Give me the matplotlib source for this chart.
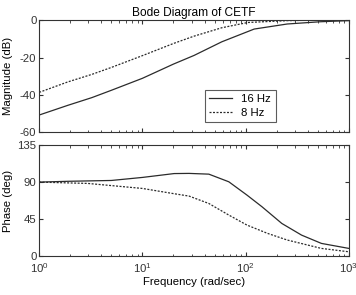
import matplotlib
matplotlib.use('Agg')
import matplotlib.pyplot as plt
import numpy as np

plt.rcParams['font.family'] = ['Liberation Sans', 'DejaVu Sans']
plt.rcParams['axes.unicode_minus'] = False

# magnitude readings (rad/sec, dB)
mag_w_16 = [1, 1.9, 3.24, 5.0, 10, 20, 31.6, 58.8, 121, 253, 528, 1000]
mag_16hz = [-50.7, -45.5, -41.4, -37.5, -31.1, -23.5, -18.9, -11.6, -4.8, -2.1, -0.9, -0.3]
mag_w_8 = [1, 1.9, 3.24, 5.0, 10, 20, 31.6, 58.8, 105, 253, 528, 1000]
mag_8hz = [-38.6, -33.0, -29.0, -25.3, -19.0, -12.5, -8.6, -4.1, -1.3, -0.3, 0.0, 0.0]

# phase readings (rad/sec, deg)
ph_w_16 = [1, 1.9, 5.0, 10, 20.3, 28.3, 44, 68.7, 103, 144, 224, 348, 542, 1000]
ph_16hz = [90, 91, 92, 95.7, 100.4, 100.6, 99.7, 90.4, 74.2, 60, 39.7, 25.5, 15.4, 9.3]
ph_w_8 = [1, 2.96, 10, 20, 28.3, 44, 68.7, 103, 163, 253, 542, 1000]
ph_8hz = [90, 88.4, 82.3, 76, 73, 64, 49.9, 37.7, 27.6, 19.5, 9.3, 5.2]

line_col = '#2b2b2b'
dash = (0, (1.6, 1.2))
fs = 8.2

fig = plt.figure(figsize=(3.56, 2.95), dpi=100)
ax1 = fig.add_axes([0.110, 0.551, 0.870, 0.381])
ax2 = fig.add_axes([0.110, 0.132, 0.870, 0.376])

ax1.semilogx(mag_w_16, mag_16hz, '-', color=line_col, lw=0.9, label='16 Hz')
ax1.semilogx(mag_w_8, mag_8hz, linestyle=dash, color=line_col, lw=0.9, label='8 Hz')
ax2.semilogx(ph_w_16, ph_16hz, '-', color=line_col, lw=0.9)
ax2.semilogx(ph_w_8, ph_8hz, linestyle=dash, color=line_col, lw=0.9)

for ax in (ax1, ax2):
    ax.set_xlim(1, 1000)
    ax.tick_params(which='both', direction='in', top=True, right=True,
                   labelsize=fs, colors='#333333', pad=2)
    ax.tick_params(axis='x', which='both', pad=4)
    ax.tick_params(which='major', length=3)
    ax.tick_params(which='minor', length=1.8)
    for s in ax.spines.values():
        s.set_linewidth(0.8)
        s.set_color('#333333')

ax1.set_ylim(-60, 0)
ax1.set_yticks([-60, -40, -20, 0])
ax1.tick_params(which='both', labelbottom=False)
ax1.set_ylabel('Magnitude (dB)', fontsize=fs)
ax1.yaxis.set_label_coords(-0.085, 0.5)
ax1.set_title('Bode Diagram of CETF', fontsize=8.6, pad=3)

ax2.set_ylim(0, 135)
ax2.set_yticks([0, 45, 90, 135])
ax2.set_ylabel('Phase (deg)', fontsize=fs)
ax2.yaxis.set_label_coords(-0.085, 0.5)
ax2.set_xlabel('Frequency (rad/sec)', fontsize=fs, labelpad=1)

leg = ax1.legend(loc='lower left', bbox_to_anchor=(0.535, 0.09), fontsize=fs,
                 frameon=True, fancybox=False, edgecolor='#333333',
                 handlelength=2.0, borderpad=0.4, labelspacing=0.3,
                 borderaxespad=0)
leg.get_frame().set_linewidth(0.8)

fig.savefig('out.png', dpi=100)
